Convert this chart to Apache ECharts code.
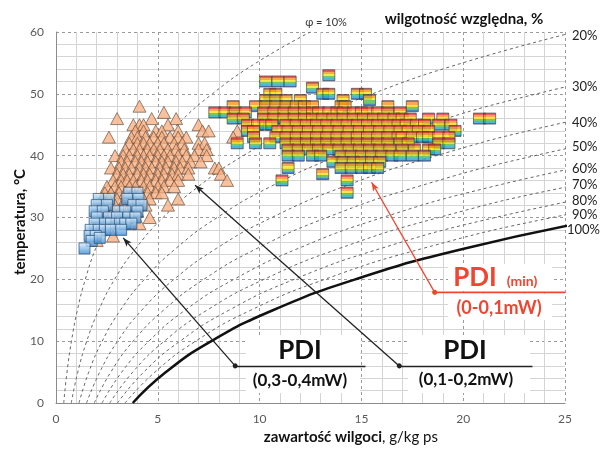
<!DOCTYPE html>
<html>
<head>
<meta charset="utf-8">
<script src="https://cdn.jsdelivr.net/npm/echarts@6/dist/echarts.min.js"></script>
<style>
html,body{margin:0;padding:0;background:#fff}
#chart{width:600px;height:450px}
</style>
</head>
<body>
<div id="chart"></div>
<script>
// linie stałej wilgotności względnej: zawartość wilgoci x [g/kg] dla temperatur rhTemps
var rhTemps = [0, 5, 10, 15, 20, 25, 30, 35, 40, 45, 50, 55, 60];
var rh10  = [0.38, 0.54, 0.76, 1.05, 1.44, 1.95, 2.62, 3.47, 4.57, 5.95, 7.68, 9.83, 12.49];
var rh20  = [0.75, 1.07, 1.51, 2.10, 2.88, 3.92, 5.26, 6.99, 9.20, 12.01, 15.54, 19.97, 25.49];
var rh30  = [1.13, 1.61, 2.27, 3.16, 4.34, 5.89, 7.92, 10.54, 13.90, 18.18, 23.61, 30.44];
var rh40  = [1.50, 2.15, 3.03, 4.21, 5.80, 7.88, 10.60, 14.13, 18.68, 24.48, 31.88];
var rh50  = [1.88, 2.69, 3.79, 5.28, 7.26, 9.88, 13.31, 17.77, 23.52, 30.91];
var rh60  = [2.26, 3.23, 4.56, 6.34, 8.74, 11.90, 16.04, 21.44, 28.44];
var rh70  = [2.64, 3.77, 5.32, 7.41, 10.22, 13.92, 18.80, 25.16, 33.44];
var rh80  = [3.02, 4.31, 6.09, 8.49, 11.70, 15.96, 21.58, 28.92];
var rh90  = [3.39, 4.86, 6.86, 9.56, 13.20, 18.02, 24.38, 32.70];
var rh100 = [3.77, 5.40, 7.63, 10.65, 14.70, 20.08, 27.22];

var rhLabels = ['20%', '30%', '40%', '50%', '60%', '70%', '80%', '90%', '100%'];
var rhLabelY = [36, 87, 123, 147, 169, 185, 201, 215, 230];

// PDI (0,3-0,4mW) - niebieskie kwadraty
var pdiHighPoints = [
    [3.6,34],[4.0,34],
    [2.1,33],[2.6,33],[3.5,33],[4.05,33],
    [2.0,32],[2.5,32],[3.8,32],[4.2,32],
    [1.9,31],[2.3,31],[3.05,31],[3.4,31],[4.0,31],
    [2.0,30],[2.6,30],[3.0,30],[3.55,30],[3.9,30],
    [1.9,29],[2.4,29],[2.7,29],[3.15,29],[3.4,29],[3.7,29],
    [1.7,28],[2.1,28],[2.4,28],[2.7,28],[3.2,28],
    [1.65,27],[1.95,27],
    [1.75,26.2],[2.15,26.7],
    [1.4,25]
];

// PDI (0,1-0,2mW) - pomarańczowe trójkąty
var pdiMidPoints = [
    [4.1,48],
    [5.3,47],
    [3.0,46],[4.7,46],[5.9,46],
    [3.8,45],[4.1,45],[4.3,45],[5.5,45],[7.0,45],
    [3.9,44],[4.3,44],[4.9,44],[5.2,44],[6.0,44],[7.2,44],[7.5,44],[8.9,44],
    [2.6,43],[3.7,43],[4.0,43],[4.4,43],[4.8,43],[5.2,43],[5.6,43],[6.0,43],[6.4,43],[8.7,43],
    [3.6,42],[4.0,42],[4.3,42],[4.6,42],[5.0,42],[5.3,42],[5.8,42],[6.2,42],[7.0,42],[7.3,42],
    [3.4,41],[3.8,41],[4.1,41],[4.5,41],[4.8,41],[5.1,41],[5.5,41],[5.9,41],[6.3,41],[7.0,41],[7.4,41],
    [2.9,40],[3.3,40],[3.6,40],[4.0,40],[4.3,40],[4.6,40],[5.0,40],[5.3,40],[5.6,40],[6.0,40],[6.4,40],[6.8,40],[7.4,40],
    [3.2,39],[3.5,39],[3.9,39],[4.2,39],[4.5,39],[4.9,39],[5.2,39],[5.5,39],[5.9,39],[6.2,39],[6.6,39],[7.1,39],
    [2.7,38],[3.1,38],[3.4,38],[3.7,38],[4.1,38],[4.4,38],[4.7,38],[5.1,38],[5.4,38],[5.8,38],[6.1,38],[6.5,38],[7.8,38],[8.0,38],
    [3.0,37],[3.3,37],[3.6,37],[4.0,37],[4.3,37],[4.6,37],[5.0,37],[5.3,37],[5.7,37],[6.0,37],[6.5,37],[8.1,37],
    [2.8,36],[3.2,36],[3.5,36],[3.8,36],[4.2,36],[4.5,36],[4.9,36],[5.2,36],[5.6,36],[6.0,36],[8.4,36],
    [2.5,35],[2.9,35],[3.2,35],[3.6,35],[3.9,35],[4.3,35],[4.6,35],[5.0,35],[5.3,35],[5.8,35],
    [2.4,34],[2.7,34],[3.1,34],[3.4,34],[3.8,34],[4.1,34],[4.5,34],[4.9,34],[5.2,34],
    [2.3,33],[2.6,33],[3.0,33],[3.4,33],[3.8,33],[4.3,33],[4.6,33],[6.0,33],
    [2.2,32],[2.6,32],[2.9,32],[3.3,32],[4.0,32],[4.4,32],[5.5,32],
    [2.3,31],[2.8,31],[3.5,31],[4.0,31],
    [3.0,30],[4.6,30],
    [3.6,29],[4.1,29],
    [2.2,28],
    [2.8,27],
    [2.0,26.3]
];

// PDI (min) (0-0,1mW) - tęczowe kwadraty
var pdiMinPoints = [
    [13.4,53],
    [10.3,52],[10.9,52],[11.5,52],
    [12.6,51],
    [10.5,50],[10.8,50],[13.1,50],[13.4,50],[14.8,50],[15.2,50],
    [10.3,49],[10.8,49],[11.3,49],[12.0,49],[14.1,49],[15.4,49],
    [8.7,48],[9.8,48],[10.3,48],[10.8,48],[11.3,48],[11.8,48],[12.2,48],[12.6,48],[14.0,48],[14.2,48],[16.3,48],[17.5,48],
    [7.8,47],[8.3,47],[8.8,47],[9.3,47],[10.2,47],[10.7,47],[11.2,47],[11.7,47],[12.2,47],[12.6,47],[12.9,47],[13.4,47],
    [13.8,47],[14.1,47],[14.6,47],[15.0,47],[15.3,47],[15.8,47],[16.3,47],[16.9,47],
    [8.7,46],[9.2,46],[10.2,46],[10.7,46],[11.2,46],[11.7,46],[12.2,46],[12.6,46],[13.1,46],[13.6,46],[14.1,46],
    [14.6,46],[15.1,46],[15.6,46],[16.1,46],[16.6,46],[17.0,46],[17.4,46],[18.3,46],[19.0,46],[20.8,46],[21.3,46],
    [9.4,45],[9.9,45],[10.3,45],[10.6,45],[11.3,45],[11.8,45],[12.3,45],[12.8,45],[13.3,45],[13.8,45],[14.3,45],
    [14.8,45],[15.3,45],[15.8,45],[16.3,45],[16.8,45],[17.2,45],[17.7,45],[18.1,45],[18.8,45],[19.4,45],
    [9.4,44],[9.7,44],[10.9,44],[11.4,44],[11.9,44],[12.4,44],[12.9,44],[13.4,44],[13.9,44],[14.4,44],[14.9,44],
    [15.4,44],[15.9,44],[16.4,44],[16.9,44],[17.3,44],[17.8,44],[18.3,44],[19.6,44],
    [9.7,43],[10.8,43],[11.3,43],[11.8,43],[12.3,43],[12.8,43],[13.3,43],[13.8,43],[14.3,43],[14.8,43],[15.3,43],
    [15.8,43],[16.3,43],[16.8,43],[17.0,43],[17.5,43],[18.0,43],[18.3,43],[18.8,43],[19.3,43],
    [8.9,42],[9.8,42],[10.5,42],[11.3,42],[11.8,42],[12.3,42],[12.8,42],[13.3,42],[13.8,42],[14.3,42],[14.8,42],
    [15.3,42],[15.8,42],[16.3,42],[16.9,42],[17.3,42],[18.8,42],[19.3,42],
    [11.4,41],[11.9,41],[12.4,41],[12.9,41],[13.4,41],[13.9,41],[14.4,41],[14.9,41],[15.4,41],[15.9,41],[16.4,41],
    [17.0,41],[17.6,41],[18.3,41],[18.6,41],
    [11.4,40],[11.9,40],[12.6,40],[13.0,40],[14.0,40],[14.5,40],[15.0,40],[15.5,40],[16.0,40],[16.5,40],[16.9,40],
    [17.5,40],[18.1,40],
    [13.6,39],[14.1,39],[14.6,39],[15.0,39],[15.5,39],[15.9,39],
    [11.4,38],[14.0,38],[14.5,38],[15.0,38],[15.4,38],[15.8,38],
    [13.1,37],
    [11.1,36],[14.3,36],
    [14.3,34]
];

var chart = echarts.init(document.getElementById('chart'));

function curve(xs) {
    return xs.map(function (x, i) { return [x, rhTemps[i]]; });
}

var series = [];
[rh10, rh20, rh30, rh40, rh50, rh60, rh70, rh80, rh90].forEach(function (xs) {
    series.push({
        type: 'line', data: curve(xs), showSymbol: false, smooth: true, silent: true, z: 2,
        lineStyle: {color: '#666', width: 1, type: [3, 3]}
    });
});
series.push({
    type: 'line', data: curve(rh100), showSymbol: false, smooth: true, silent: true, z: 3,
    lineStyle: {color: '#111', width: 2.5}
});

// punkty pomiarowe
series.push({
    type: 'scatter', data: pdiMidPoints, symbol: 'triangle', symbolSize: [13, 12], z: 4,
    itemStyle: {color: '#f7b185', borderColor: '#5e4636', borderWidth: 0.8}
});
series.push({
    type: 'scatter', data: pdiHighPoints, symbol: 'rect', symbolSize: [11, 11], z: 5,
    itemStyle: {
        color: new echarts.graphic.LinearGradient(0, 0, 0, 1, [
            {offset: 0, color: '#e3f1fc'}, {offset: 1, color: '#3387d2'}
        ]),
        borderColor: '#264f7a', borderWidth: 0.9
    }
});
series.push({
    type: 'scatter', data: pdiMinPoints, symbol: 'rect', symbolSize: [12, 11], z: 6,
    itemStyle: {
        color: new echarts.graphic.LinearGradient(0, 0, 0, 1, [
            {offset: 0, color: '#e63338'}, {offset: 0.18, color: '#e63338'},
            {offset: 0.18, color: '#f7941d'}, {offset: 0.36, color: '#f7941d'},
            {offset: 0.36, color: '#f5e21b'}, {offset: 0.54, color: '#f5e21b'},
            {offset: 0.54, color: '#4fb847'}, {offset: 0.72, color: '#4fb847'},
            {offset: 0.72, color: '#1ea8c8'}, {offset: 0.86, color: '#1ea8c8'},
            {offset: 0.86, color: '#2463b8'}, {offset: 1, color: '#2463b8'}
        ]),
        borderColor: '#3a3a3a', borderWidth: 0.8
    }
});

// strzałki opisów
series.push({
    type: 'line', data: [], z: 8,
    markLine: {
        silent: true, animation: false, z: 12, label: {show: false},
        symbol: ['circle', 'arrow'], symbolSize: [5, 9],
        lineStyle: {color: '#222', width: 1.3, type: 'solid'},
        data: [
            [{coord: [8.8, 6.0]}, {coord: [3.3, 26.7]}],
            [{coord: [8.8, 6.0], symbol: 'none'}, {coord: [15.2, 6.0], symbol: 'none'}],
            [{coord: [16.86, 6.0]}, {coord: [6.83, 35.2]}],
            [{coord: [16.86, 6.0], symbol: 'none'}, {coord: [23.4, 6.0], symbol: 'none'}]
        ]
    }
});
series.push({
    type: 'line', data: [], z: 8,
    markLine: {
        silent: true, animation: false, z: 12, label: {show: false},
        symbol: ['circle', 'arrow'], symbolSize: [5, 9],
        lineStyle: {color: '#f0452f', width: 1.3, type: 'solid'},
        data: [
            [{coord: [18.6, 17.9]}, {coord: [15.5, 35.7]}],
            [{coord: [18.6, 17.9], symbol: 'none'}, {coord: [25, 17.9], symbol: 'none'}]
        ]
    }
});

var font = 'Lato, "Open Sans", sans-serif';
function box(x, y, w, h) {
    return {type: 'rect', z: 7, shape: {x: x, y: y, width: w, height: h}, style: {fill: '#fff'}};
}
function label(x, y, text, f, color, align) {
    return {type: 'text', z: 9, x: x, y: y,
        style: {text: text, font: f, fill: color || '#111', textAlign: align || 'center', textVerticalAlign: 'middle'}};
}
var graphic = [
    box(246, 335, 114, 58),
    box(408, 335, 122, 58),
    box(448, 264, 104, 27),
    box(448, 294, 104, 26),
    {type: 'text', x: 20, y: 222, rotation: Math.PI / 2,
        style: {text: 'temperatura, °C', font: 'bold 15px ' + font, fill: '#111', textAlign: 'center', textVerticalAlign: 'middle'}},
    label(382, 437, 'zawartość wilgoci', 'bold 15px ' + font, '#111', 'right'),
    label(382, 437, ', g/kg ps', '15px ' + font, '#111', 'left'),
    label(464, 19, 'wilgotność względna, %', 'bold 15px ' + font),
    label(326, 22, 'φ = 10%', '11px ' + font, '#333'),
    label(300, 351, 'PDI', 'bold 26px ' + font),
    label(300, 381, '(0,3-0,4mW)', 'bold 17px ' + font),
    label(465, 351, 'PDI', 'bold 26px ' + font),
    label(466, 380, '(0,1-0,2mW)', 'bold 17px ' + font),
    label(475, 278, 'PDI', 'bold 26px ' + font, '#f0452f'),
    label(522, 281, '(min)', 'bold 14px ' + font, '#f0452f'),
    label(499, 308, '(0-0,1mW)', 'bold 18px ' + font, '#f0452f')
];
rhLabels.forEach(function (t, i) {
    graphic.push(label(i === rhLabels.length - 1 ? 567 : 572, rhLabelY[i], t, '13px ' + font, '#222', 'left'));
});

var option = {
    animation: false,
    backgroundColor: '#fff',
    grid: {left: 56, right: 35, top: 32, bottom: 47, containLabel: false},
    xAxis: {
        type: 'value', min: 0, max: 25, interval: 5,
        axisLine: {show: true, lineStyle: {color: '#8c8c8c'}},
        axisTick: {show: false},
        axisLabel: {color: '#595959', fontSize: 12, margin: 10, fontFamily: font},
        splitLine: {show: true, lineStyle: {color: '#9a9a9a', type: [3, 3]}},
        minorTick: {show: false, splitNumber: 5},
        minorSplitLine: {show: true, lineStyle: {color: '#d4d4d4', width: 1}}
    },
    yAxis: {
        type: 'value', min: 0, max: 60, interval: 10,
        axisLine: {show: true, lineStyle: {color: '#8c8c8c'}},
        axisTick: {show: false},
        axisLabel: {color: '#595959', fontSize: 12, margin: 12, fontFamily: font},
        splitLine: {show: true, lineStyle: {color: '#9a9a9a', type: [3, 3]}},
        minorTick: {show: false, splitNumber: 5},
        minorSplitLine: {show: true, lineStyle: {color: '#d4d4d4', width: 1}}
    },
    series: series,
    graphic: graphic
};
chart.setOption(option);
</script>
</body>
</html>
